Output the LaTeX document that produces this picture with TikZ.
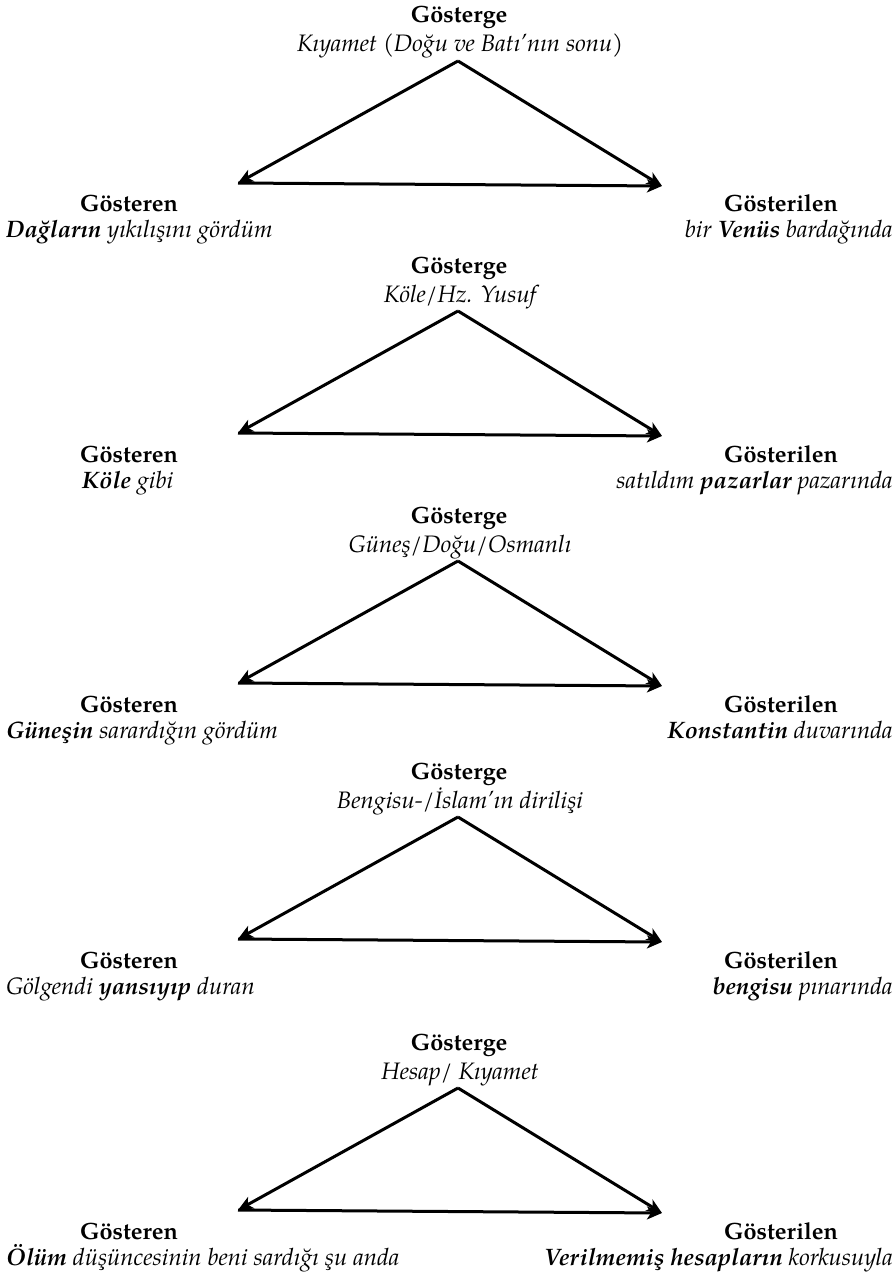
\documentclass[tikz,border=0pt]{standalone}
\usepackage{fontspec}
\setmainfont{texgyrepagella}[Extension=.otf,UprightFont=*-regular,BoldFont=*-bold,ItalicFont=*-italic,BoldItalicFont=*-bolditalic]
\usetikzlibrary{arrows.meta}
\tikzset{
  txt/.style={font={\fontsize{23.8}{28}\selectfont}, inner sep=0pt},
  hd/.style={font={\fontsize{23.5}{28}\selectfont\bfseries}, inner sep=0pt, anchor=base},
  arr/.style={line width=3pt, -{Stealth[length=15pt,width=13pt,inset=4pt]}},
}
% #1 index, #2 vertical offset, #3 subtitle, #4 left text, #5 left x, #6 right text
\newcommand\triad[6]{%
  \node[hd] (g#1) at (459,{23+#2}) {Gösterge};
  \node[txt, anchor=base] (s#1) at (460,{52+#2}) {\itshape #3};
  \coordinate (a#1) at (458,{61+#2});
  \coordinate (l#1) at (238,{183+#2});
  \coordinate (r#1) at (662,{186+#2});
  \draw[arr] (a#1) -- (l#1);
  \draw[arr] (a#1) -- (r#1);
  \draw[arr] (l#1) -- (r#1);
  \node[hd] (gl#1) at (129,{212+#2}) {Gösteren};
  \node[txt, anchor=base west] (tl#1) at (#5,{238+#2}) {\itshape #4};
  \node[hd] (gr#1) at (781,{212+#2}) {Gösterilen};
  \node[txt, anchor=base east] (tr#1) at (893,{238+#2}) {\itshape #6};
}
\begin{document}
\begin{tikzpicture}[x=1pt,y=-1pt]
\useasboundingbox (0,0) rectangle (895,1281);
\fill[white] (0,0) rectangle (895,1281);
\triad{1}{0}{Kıyamet (Doğu ve Batı'nın sonu)}{\textbf{Dağların} yıkılışını gördüm}{6}{bir \textbf{Venüs} bardağında}
\triad{2}{250}{Köle/Hz. Yusuf}{\textbf{Köle} gibi}{82}{satıldım \textbf{pazarlar} pazarında}
\triad{3}{500}{Güneş/Doğu/Osmanlı}{\textbf{Güneşin} sarardığın gördüm}{6}{\textbf{Konstantin} duvarında}
\triad{4}{756}{Bengisu-/İslam'ın dirilişi}{Gölgendi \textbf{yansıyıp} duran}{6}{\textbf{bengisu} pınarında}
\triad{5}{1027}{Hesap/ Kıyamet}{\textbf{Ölüm} düşüncesinin beni sardığı şu anda}{6}{\textbf{Verilmemiş hesapların} korkusuyla}
\end{tikzpicture}
\end{document}
